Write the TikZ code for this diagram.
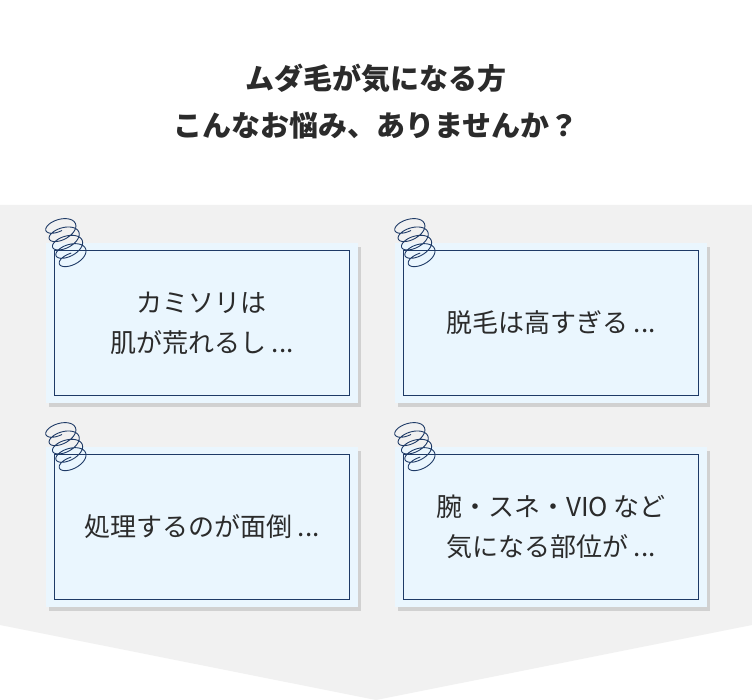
\documentclass[tikz,border=0pt]{standalone}
\usepackage{fontspec}
\setmainfont{Noto Sans CJK JP}

\definecolor{navy}{HTML}{1E3A66}
\definecolor{paleblue}{HTML}{EAF6FE}
\definecolor{paper}{HTML}{F1F1F1}
\definecolor{ink}{HTML}{2B2B2B}

\begin{document}
\begin{tikzpicture}[
        x = 1pt, y = -1pt,
        card/.style = {
            fill = paleblue,
        },
        shade/.style = {
            fill = black!18,
        },
        frame/.style = {
            draw = navy, line width = 0.8pt,
            align = center, text = ink,
            font = \fontsize{26}{40}\selectfont,
        },
        scribble/.style = {
            draw = navy, line width = 0.9pt,
        },
    ]

    \useasboundingbox (0,0) rectangle (752,700);

    % Hintergrund
    \fill[white] (0,0) rectangle (752,700);
    \fill[paper] (0,205) -- (752,205) -- (752,625) -- (376,700) -- (0,625) -- cycle;

    % Titel
    \node[font = \bfseries\fontsize{29}{47}\selectfont, text = ink, align = center]
        (title) at (376,102) {ムダ毛が気になる方\\こんなお悩み、ありませんか？};

    % Karten
    \foreach \cx/\cy/\name in {46/243/a, 395/243/b, 46/447/c, 395/447/d} {
        \fill[shade] (\cx+3,\cy+4) rectangle ++(312,160);
        \fill[card] (\cx,\cy) rectangle ++(312,160);
        \node[frame, minimum width = 295pt, minimum height = 145pt, anchor = north west]
            (\name) at (\cx+8,\cy+7) {};
        \draw[scribble, shift = {(\cx+13,\cy-20)}, rotate = -68]
            plot[domain = 0:1620, samples = 260, smooth]
            ({8*cos(\x) + \x/40}, {15*sin(\x)});
    }

    \node[frame, draw = none] at (a) {カミソリは\\肌が荒れるし ...};
    \node[frame, draw = none] at (b) {脱毛は高すぎる ...};
    \node[frame, draw = none] at (c) {処理するのが面倒 ...};
    \node[frame, draw = none] at (d) {腕・スネ・VIO など\\気になる部位が ...};

\end{tikzpicture}
\end{document}
